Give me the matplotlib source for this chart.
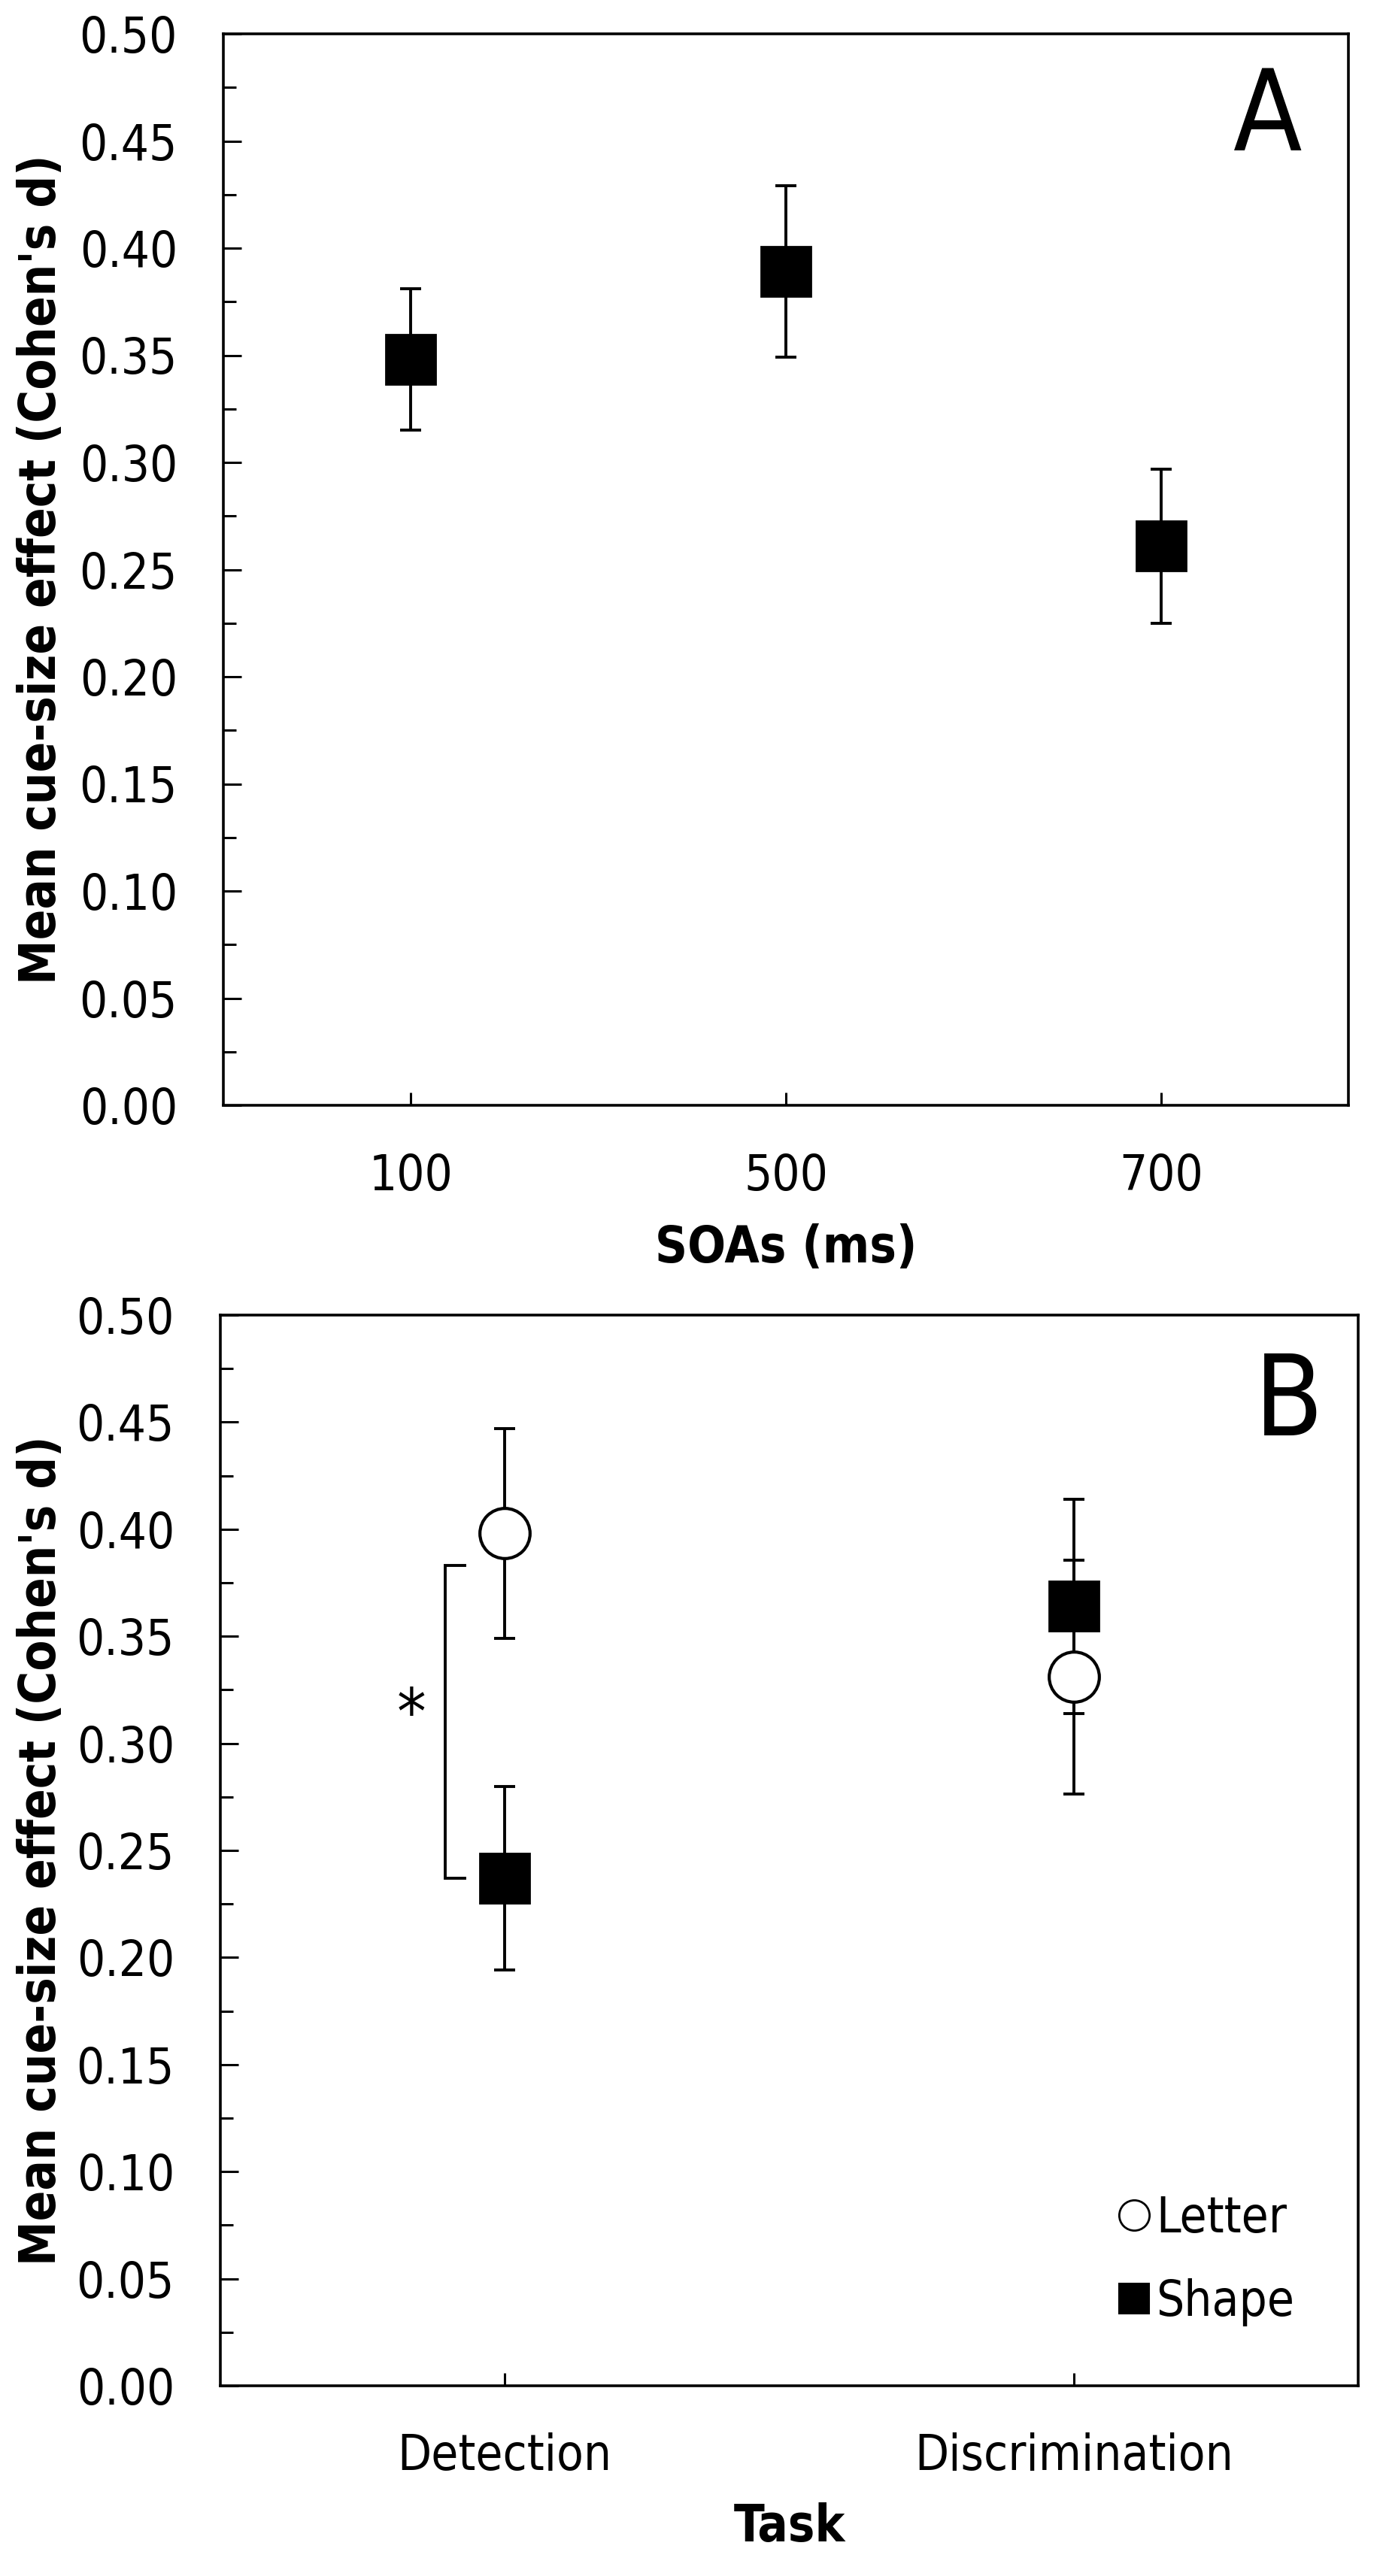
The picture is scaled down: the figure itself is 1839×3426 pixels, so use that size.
import matplotlib
matplotlib.use('Agg')
import matplotlib.pyplot as plt
from matplotlib import font_manager as fm
from matplotlib.lines import Line2D
from matplotlib.ticker import MultipleLocator, FormatStrFormatter
import numpy as np

# ---------------- data ----------------
soa_labels = ['100', '500', '700']
soa_effect = [0.348, 0.389, 0.261]
soa_err = [0.033, 0.040, 0.036]

task_labels = ['Detection', 'Discrimination']
letter_effect = [0.398, 0.331]
letter_err = [0.049, 0.0545]
shape_effect = [0.237, 0.364]
shape_err = [0.043, 0.050]

sig_bracket_x = [0.93, 0.895, 0.895, 0.93]
sig_bracket_y = [0.237, 0.237, 0.383, 0.383]
sig_star_x = 0.836
sig_star_y = 0.304

ytick_vals = [0.0, 0.05, 0.10, 0.15, 0.20, 0.25, 0.30, 0.35, 0.40, 0.45, 0.50]


# ---------------- font ----------------
def pick_font():
    try:
        fm.findfont(fm.FontProperties(family='DejaVu Sans Condensed'), fallback_to_default=False)
        return 'DejaVu Sans Condensed', 'normal'
    except Exception:
        pass
    p = fm.findfont(fm.FontProperties(family='DejaVu Sans', stretch='condensed'))
    if 'Condensed' in p:
        return 'DejaVu Sans', 'condensed'
    return 'Liberation Sans', 'normal'


fam, stretch = pick_font()
plt.rcParams['font.family'] = [fam, 'DejaVu Sans']
plt.rcParams['font.stretch'] = stretch

TS = 47     # tick label size
LS = 48     # axis label size
EW = 2.8    # error bar line width
W, H = 1840, 3426

fig = plt.figure(figsize=(W / 100, H / 100), dpi=100)
axA = fig.add_axes([297 / W, 1 - 1470 / H, 1496 / W, 1425 / H])
axB = fig.add_axes([293 / W, 1 - 3173 / H, 1513 / W, 1424 / H])


def style(ax):
    ax.set_ylim(0, 0.5)
    ax.set_yticks(ytick_vals)
    ax.yaxis.set_minor_locator(MultipleLocator(0.025))
    ax.yaxis.set_major_formatter(FormatStrFormatter('%.2f'))
    ax.tick_params(axis='y', which='major', direction='in', length=17, width=2.2,
                   labelsize=TS, pad=44, right=False)
    ax.tick_params(axis='y', which='minor', direction='in', length=12, width=2.2, right=False)
    ax.tick_params(axis='x', which='major', direction='in', length=12, width=2.2,
                   labelsize=TS, pad=45, top=False)
    ax.tick_params(axis='x', which='minor', bottom=False, top=False)
    for s in ax.spines.values():
        s.set_linewidth(2.6)
        s.set_color('black')


# ---------------- Panel A ----------------
xa = np.arange(1, len(soa_labels) + 1)
axA.errorbar(xa, soa_effect, yerr=soa_err, fmt='none', ecolor='black',
             elinewidth=EW, capsize=10, capthick=EW, zorder=2)
axA.plot(xa, soa_effect, ls='none', marker='s', ms=48, mfc='black', mec='black',
         mew=2, zorder=3)
axA.set_xlim(0.5, len(soa_labels) + 0.5)
axA.set_xticks(xa)
axA.set_xticklabels(soa_labels)
style(axA)
axA.set_ylabel("Mean cue-size effect (Cohen's d)", fontsize=LS, fontweight='bold')
axA.yaxis.set_label_coords(-0.1397, 0.5)
axA.set_xlabel('SOAs (ms)', fontsize=LS, fontweight='bold')
axA.xaxis.set_label_coords(0.5, -0.1102)
axA.text(0.9285, 0.891, 'A', transform=axA.transAxes, ha='center', va='baseline',
         fontsize=107)

# ---------------- Panel B ----------------
xb = np.arange(1, len(task_labels) + 1)
axB.errorbar(xb, letter_effect, yerr=letter_err, fmt='none', ecolor='black',
             elinewidth=EW, capsize=10, capthick=EW, zorder=2)
axB.errorbar(xb, shape_effect, yerr=shape_err, fmt='none', ecolor='black',
             elinewidth=EW, capsize=10, capthick=EW, zorder=2)
axB.plot(xb, shape_effect, ls='none', marker='s', ms=48, mfc='black', mec='black',
         mew=2, zorder=3)
axB.plot(xb, letter_effect, ls='none', marker='o', ms=48, mfc='white', mec='black',
         mew=3, zorder=3)
axB.plot(sig_bracket_x, sig_bracket_y, color='black', lw=EW, zorder=2,
         solid_joinstyle='miter')
axB.text(sig_star_x, sig_star_y, '*', ha='center', va='baseline', fontsize=62)
axB.set_xlim(0.5, len(task_labels) + 0.5)
axB.set_xticks(xb)
axB.set_xticklabels(task_labels)
style(axB)
axB.set_ylabel("Mean cue-size effect (Cohen's d)", fontsize=LS, fontweight='bold')
axB.yaxis.set_label_coords(-0.1355, 0.5)
axB.set_xlabel('Task', fontsize=LS, fontweight='bold')
axB.xaxis.set_label_coords(0.5, -0.1088)
axB.text(0.939, 0.8876, 'B', transform=axB.transAxes, ha='center', va='baseline',
         fontsize=107)

h1 = Line2D([], [], ls='none', marker='o', ms=29, mfc='white', mec='black', mew=2)
h2 = Line2D([], [], ls='none', marker='s', ms=29, mfc='black', mec='black', mew=1.5)
axB.legend([h1, h2], ['Letter', 'Shape'], loc='center left',
           bbox_to_anchor=(0.7888, 0.117), frameon=False, fontsize=TS,
           handlelength=0.65, handletextpad=0.13, labelspacing=0.71,
           borderpad=0, borderaxespad=0, numpoints=1)

fig.savefig('out.png', dpi=100)
